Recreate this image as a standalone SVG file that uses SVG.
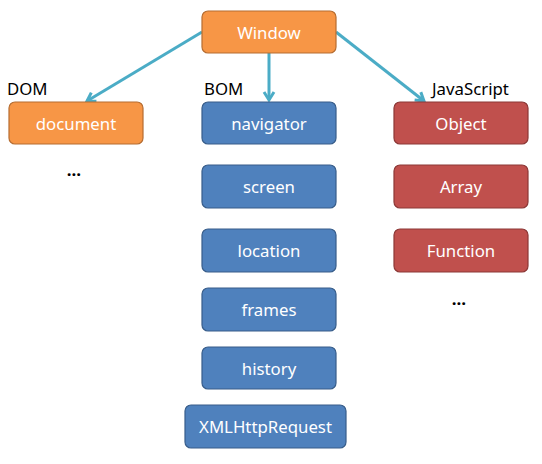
<svg xmlns="http://www.w3.org/2000/svg" width="542" height="464" viewBox="0 0 542 464">
<defs>
<style>
.box{stroke-width:1.2}
.o{fill:#F79646;stroke:#B66D31}
.b{fill:#4F81BD;stroke:#385D8A}
.r{fill:#C0504D;stroke:#8C3836}
.t{font-family:"Noto Sans","Open Sans",sans-serif;font-size:16.8px;fill:#FFFFFF;text-anchor:middle}
.l{font-family:"Noto Sans","Open Sans",sans-serif;font-size:16.8px;fill:#000000}
.c{stroke:#4BACC6;stroke-width:3;fill:none}
</style>
<marker id="ah" markerWidth="10" markerHeight="10" refX="8" refY="5" orient="auto" markerUnits="userSpaceOnUse" viewBox="0 0 10 10" overflow="visible">
<path d="M0,0 L8,5 L0,10" fill="none" stroke="#4BACC6" stroke-width="3" stroke-linejoin="miter"/>
</marker>
</defs>
<g id="connectors">
<line class="c" x1="202" y1="32" x2="87" y2="101" marker-end="url(#ah)"/>
<line class="c" x1="269" y1="53" x2="269" y2="100" marker-end="url(#ah)"/>
<line class="c" x1="336" y1="32" x2="424" y2="101" marker-end="url(#ah)"/>
</g>
<g id="window"><rect class="box o" x="202" y="11" width="134" height="42" rx="6"/><text class="t" x="269" y="38.5">Window</text></g>
<g id="dom-label"><text class="l" x="7" y="95">DOM</text></g>
<g id="bom-label"><text class="l" x="204" y="95">BOM</text></g>
<g id="js-label"><text class="l" x="432" y="95">JavaScript</text></g>
<g id="document"><rect class="box o" x="9" y="102" width="134" height="42" rx="6"/><text class="t" x="76" y="129.5">document</text></g>
<g id="dom-more"><text class="l" x="74" y="176" text-anchor="middle" font-weight="bold">…</text></g>
<g id="navigator"><rect class="box b" x="202" y="102" width="134" height="42" rx="6"/><text class="t" x="269" y="129.5">navigator</text></g>
<g id="screen"><rect class="box b" x="202" y="165" width="134" height="43" rx="6"/><text class="t" x="269" y="192.5">screen</text></g>
<g id="location"><rect class="box b" x="202" y="229" width="134" height="43" rx="6"/><text class="t" x="269" y="256.5">location</text></g>
<g id="frames"><rect class="box b" x="202" y="288" width="134" height="43" rx="6"/><text class="t" x="269" y="315.5">frames</text></g>
<g id="history"><rect class="box b" x="202" y="347" width="134" height="42" rx="6"/><text class="t" x="269" y="374.5">history</text></g>
<g id="xmlhttprequest"><rect class="box b" x="185" y="405" width="161" height="43" rx="6"/><text class="t" x="265.5" y="432.5">XMLHttpRequest</text></g>
<g id="object"><rect class="box r" x="394" y="102" width="134" height="42" rx="6"/><text class="t" x="461" y="129.5">Object</text></g>
<g id="array"><rect class="box r" x="394" y="165" width="134" height="43" rx="6"/><text class="t" x="461" y="192.5">Array</text></g>
<g id="function"><rect class="box r" x="394" y="229" width="134" height="43" rx="6"/><text class="t" x="461" y="256.5">Function</text></g>
<g id="js-more"><text class="l" x="459" y="305" text-anchor="middle" font-weight="bold">…</text></g>
</svg>
